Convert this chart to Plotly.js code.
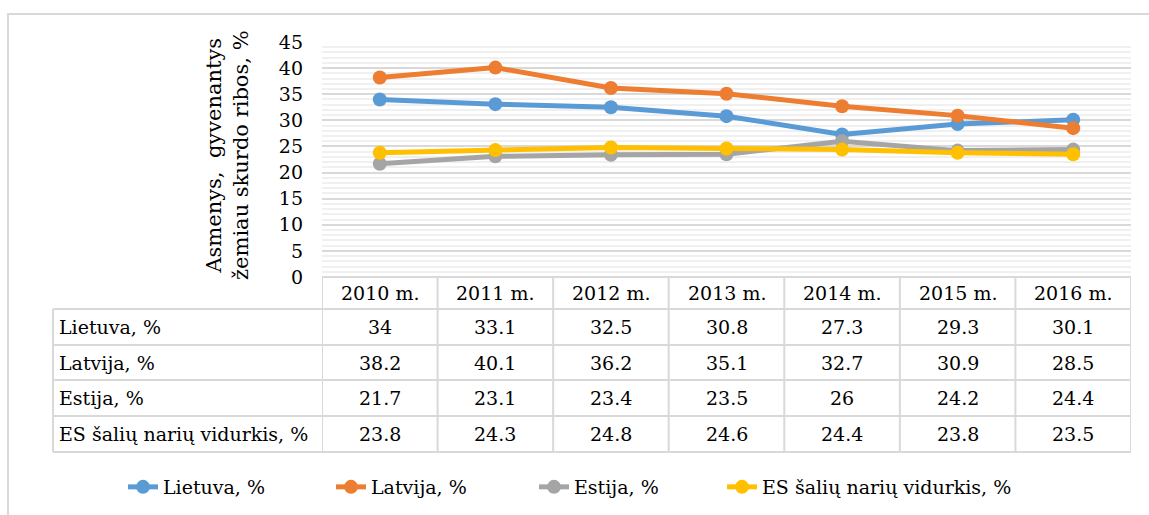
<!DOCTYPE html>
<html>
<head>
<meta charset="utf-8">
<script src="https://cdn.plot.ly/plotly-3.0.1.min.js"></script>
<style>html,body{margin:0;padding:0;background:#fff;}#chart{width:1149px;height:515px;}</style>
</head>
<body>
<div id="chart"></div>
<script>
const years = ["2010 m.", "2011 m.", "2012 m.", "2013 m.", "2014 m.", "2015 m.", "2016 m."];
const seriesNames = ["Lietuva, %", "Latvija, %", "Estija, %", "ES šalių narių vidurkis, %"];
const lietuva = [34, 33.1, 32.5, 30.8, 27.3, 29.3, 30.1];
const latvija = [38.2, 40.1, 36.2, 35.1, 32.7, 30.9, 28.5];
const estija = [21.7, 23.1, 23.4, 23.5, 26, 24.2, 24.4];
const esVidurkis = [23.8, 24.3, 24.8, 24.6, 24.4, 23.8, 23.5];
const colors = ["#5B9BD5", "#ED7D31", "#A5A5A5", "#FFC000"];
const yTitle = "Asmenys,  gyvenantys<br>žemiau skurdo ribos, %";

const allSeries = [lietuva, latvija, estija, esVidurkis];
const FONT = "DejaVu Serif";
const FS = 19;
const W = 1149, H = 515;
const L = 322, R = 18, T = 42, B = 238;
const plotW = W - L - R, plotH = H - T - B;
const px2x = p => (p - L) / plotW;
const py2y = p => (H - B - p) / plotH;

const legendIds = ["legend", "legend2", "legend3", "legend4"];
const legendLeft = [123, 331, 534, 722];

const traces = allSeries.map((vals, i) => ({
  type: "scatter", mode: "lines+markers",
  x: years, y: vals, name: seriesNames[i],
  legend: legendIds[i],
  line: {color: colors[i], width: 5},
  marker: {color: colors[i], size: 14}
}));

const gridC = "#d9d9d9";
const rowTops = [277, 309, 345, 380, 416, 452].map(py2y);
const shapes = [];
shapes.push({type: "rect", xref: "paper", yref: "paper", x0: px2x(8), x1: px2x(1152), y0: py2y(14), y1: py2y(520), line: {color: gridC, width: 2}, layer: "below"});
shapes.push({type: "line", xref: "x", yref: "paper", x0: -0.5, x1: years.length - 0.5, y0: rowTops[0], y1: rowTops[0], line: {color: gridC, width: 2}});
for (let r = 1; r < rowTops.length; r++) {
  shapes.push({type: "line", xref: "paper", yref: "paper", x0: px2x(53), x1: 1, y0: rowTops[r], y1: rowTops[r], line: {color: gridC, width: 2}});
}
shapes.push({type: "line", xref: "paper", yref: "paper", x0: px2x(53), x1: px2x(53), y0: rowTops[1], y1: rowTops[rowTops.length - 1], line: {color: gridC, width: 2}});
for (let c = 0; c <= years.length; c++) {
  shapes.push({type: "line", xref: "x", yref: "paper", x0: c - 0.5, x1: c - 0.5, y0: rowTops[0], y1: rowTops[rowTops.length - 1], line: {color: gridC, width: 2}});
}

const annotations = [];
const tf = {family: FONT, size: FS, color: "#000"};
years.forEach((yr, c) => {
  annotations.push({xref: "x", yref: "paper", x: yr, y: (rowTops[0] + rowTops[1]) / 2, text: yr, showarrow: false, font: tf, xanchor: "center", yanchor: "middle"});
});
allSeries.forEach((vals, r) => {
  const yc = (rowTops[r + 1] + rowTops[r + 2]) / 2;
  annotations.push({xref: "paper", yref: "paper", x: px2x(57), y: yc, text: seriesNames[r], showarrow: false, font: tf, xanchor: "left", yanchor: "middle"});
  vals.forEach((v, c) => {
    annotations.push({xref: "x", yref: "paper", x: years[c], y: yc, text: String(v), showarrow: false, font: tf, xanchor: "center", yanchor: "middle"});
  });
});
annotations.push({xref: "paper", yref: "paper", x: px2x(227), y: py2y(155), text: yTitle, textangle: -90, showarrow: false, font: {family: FONT, size: 21, color: "#000"}, xanchor: "center", yanchor: "middle"});

const layout = {
  width: W, height: H,
  margin: {l: L, r: R, t: T, b: B, autoexpand: false},
  paper_bgcolor: "#fff", plot_bgcolor: "#fff",
  font: {family: FONT, size: FS, color: "#000"},
  showlegend: true,
  xaxis: {type: "category", range: [-0.5, years.length - 0.5], showticklabels: false, showgrid: false, zeroline: false, showline: false, fixedrange: true},
  yaxis: {range: [0, 45], dtick: 5, tick0: 0, showgrid: true, gridcolor: gridC, gridwidth: 2, zeroline: false, showline: false,
    ticks: "", ticklabelstandoff: 18, tickfont: {family: FONT, size: FS, color: "#000"},
    minor: {dtick: 1, showgrid: true, gridcolor: "#f0f0f0", gridwidth: 2}},
  shapes: shapes,
  annotations: annotations
};
legendIds.forEach((id, i) => {
  layout[id] = {orientation: "h", xref: "paper", yref: "paper", x: px2x(legendLeft[i]), xanchor: "left", y: py2y(487), yanchor: "middle",
    bgcolor: "rgba(0,0,0,0)", font: {family: FONT, size: FS, color: "#000"}, itemwidth: 30};
});
Plotly.newPlot("chart", traces, layout, {displayModeBar: false, staticPlot: true});
</script>
</body>
</html>
